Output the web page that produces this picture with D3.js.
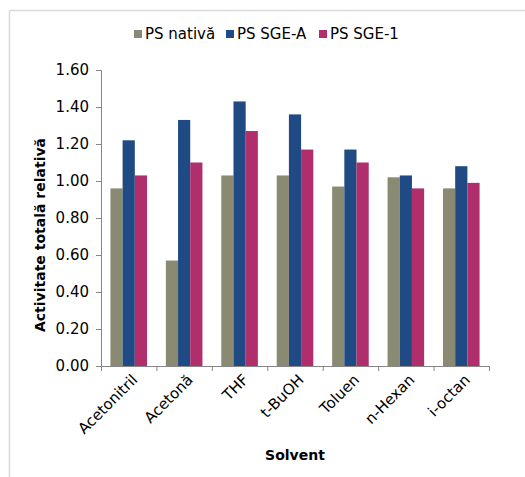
<!DOCTYPE html>
<html>
<head>
<meta charset="utf-8">
<script src="https://cdn.jsdelivr.net/npm/d3@7/dist/d3.min.js"></script>
<style>
  html, body { margin: 0; padding: 0; background: #fff; }
  svg { display: block; }
  text { font-family: "DejaVu Sans", Verdana, sans-serif; fill: #000; }
</style>
</head>
<body>
<script>
// Solvents and relative total activity per enzyme preparation
const solvents = ["Acetonitril", "Acetonă", "THF", "t-BuOH", "Toluen", "n-Hexan", "i-octan"];
const seriesNames = ["PS nativă", "PS SGE-A", "PS SGE-1"];
const psNativa = [0.96, 0.57, 1.03, 1.03, 0.97, 1.02, 0.96];
const psSgeA   = [1.22, 1.33, 1.43, 1.36, 1.17, 1.03, 1.08];
const psSge1   = [1.03, 1.10, 1.27, 1.17, 1.10, 0.96, 0.99];
const yTicks = [0, 0.2, 0.4, 0.6, 0.8, 1.0, 1.2, 1.4, 1.6];
const colors = ["#8a8a72", "#1f4a83", "#b02e6c"];

const W = 525, H = 477;
const svg = d3.select("body").append("svg").attr("width", W).attr("height", H);

// outer frame (top and left edges visible)
svg.append("line").attr("x1", 9.5).attr("x2", W).attr("y1", 10.5).attr("y2", 10.5)
  .attr("stroke", "#d9d9d9").attr("stroke-width", 1.5);
svg.append("line").attr("x1", 9.5).attr("x2", 9.5).attr("y1", 10.5).attr("y2", H)
  .attr("stroke", "#d9d9d9").attr("stroke-width", 1.5);

const plotLeft = 101, plotRight = 489, plotTop = 70, plotBottom = 366;
const x0 = d3.scaleBand().domain(solvents).range([plotLeft, plotRight]).paddingInner(0.34).paddingOuter(0.17);
const x1 = d3.scaleBand().domain(seriesNames).range([0, x0.bandwidth()]);
const y = d3.scaleLinear().domain([0, 1.6]).range([plotBottom, plotTop]);

const series = [psNativa, psSgeA, psSge1];
const rows = solvents.map((s, i) => ({ solvent: s, vals: series.map((arr, k) => ({ name: seriesNames[k], v: arr[i], k })) }));

const groups = svg.append("g").selectAll("g").data(rows).join("g")
  .attr("transform", d => `translate(${x0(d.solvent)},0)`);
groups.selectAll("rect").data(d => d.vals).join("rect")
  .attr("x", d => x1(d.name))
  .attr("width", x1.bandwidth())
  .attr("y", d => y(d.v))
  .attr("height", d => y(0) - y(d.v))
  .attr("fill", d => colors[d.k]);

const axisColor = "#868686";

// y axis
const yAxis = svg.append("g").attr("transform", `translate(${plotLeft},0)`)
  .call(d3.axisLeft(y).tickValues(yTicks).tickFormat(d3.format(".2f")).tickSize(5).tickPadding(7));
yAxis.select(".domain").attr("stroke", axisColor);
yAxis.selectAll(".tick line").attr("stroke", axisColor);
yAxis.selectAll("text").style("font-size", "15px").style("font-family", "DejaVu Sans, Verdana, sans-serif").attr("fill", "#000");

// x axis: ticks at category boundaries
const xb = d3.scaleLinear().domain([0, solvents.length]).range([plotLeft, plotRight]);
const xAxisG = svg.append("g").attr("transform", `translate(0,${plotBottom})`);
xAxisG.call(d3.axisBottom(xb).tickValues(d3.range(solvents.length + 1)).tickFormat("").tickSizeOuter(0).tickSize(5));
xAxisG.select(".domain").attr("stroke", axisColor);
xAxisG.selectAll(".tick line").attr("stroke", axisColor);

// rotated category labels
svg.append("g").selectAll("text").data(solvents).join("text")
  .attr("transform", d => `translate(${x0(d) + x0.bandwidth() / 2 + 6},${plotBottom + 11}) rotate(-45)`)
  .attr("text-anchor", "end")
  .attr("dy", "0.35em")
  .style("font-size", "15px")
  .text(d => d);

// axis titles
svg.append("text").attr("x", 295).attr("y", 460).attr("text-anchor", "middle")
  .style("font-size", "14px").style("font-weight", "bold").text("Solvent");
svg.append("text").attr("transform", `translate(45,${(plotTop + plotBottom) / 2 + 17}) rotate(-90)`)
  .attr("text-anchor", "middle").style("font-size", "14px").style("font-weight", "bold")
  .text("Activitate totală relativă");

// legend
const legendX = [134, 226, 319];
const lg = svg.append("g").selectAll("g").data(seriesNames).join("g")
  .attr("transform", (d, i) => `translate(${legendX[i]},34)`);
lg.append("rect").attr("x", 0).attr("y", -4).attr("width", 8).attr("height", 8)
  .attr("fill", (d, i) => colors[i]);
lg.append("text").attr("x", 11).attr("dy", "0.35em").style("font-size", "15px").text(d => d);
</script>
</body>
</html>
